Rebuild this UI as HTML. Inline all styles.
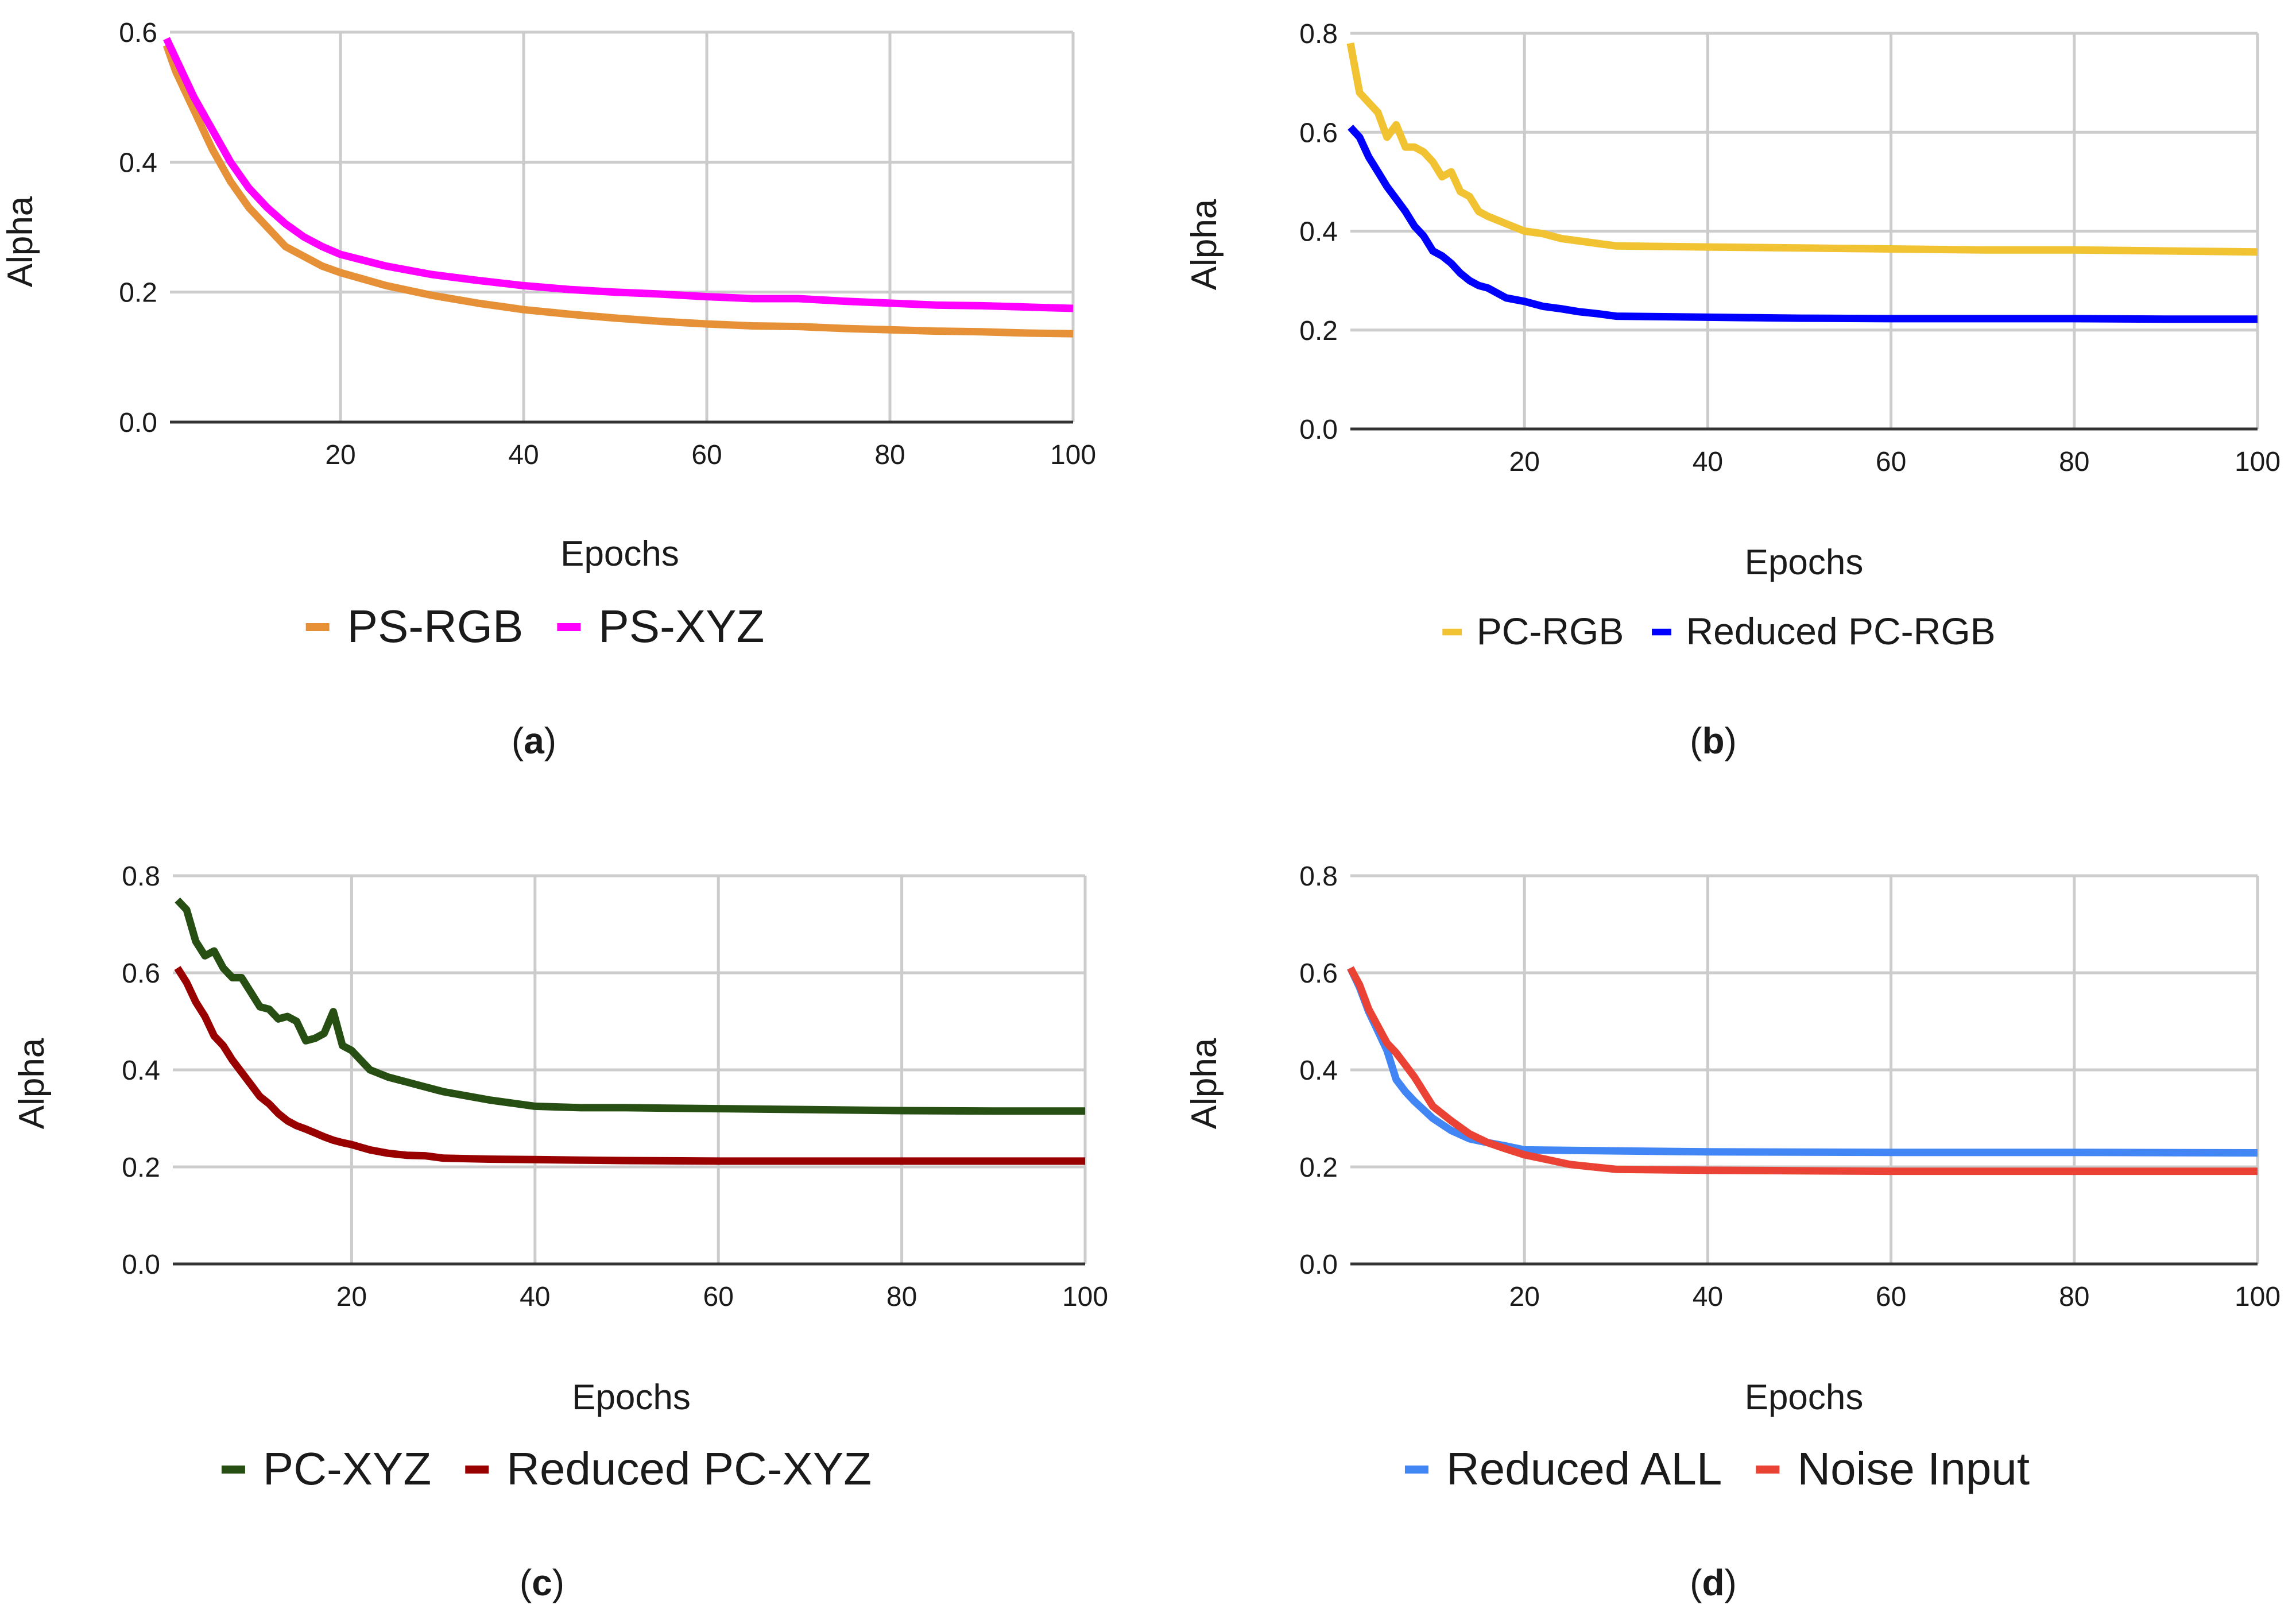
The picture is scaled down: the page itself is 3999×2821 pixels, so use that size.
<!DOCTYPE html>
<html><head><meta charset="utf-8"><style>
html,body{margin:0;padding:0;background:#fff;}
svg{display:block;}
text{font-family:"Liberation Sans",sans-serif;fill:#1a1a1a;}
</style></head><body>
<svg id="fig" width="3999" height="2821" viewBox="0 0 3999 2821" xmlns="http://www.w3.org/2000/svg"></svg>
<script>
// Panel (a)
const epochsA = [1,2,4,6,8,10,12,14,16,18,20,25,30,35,40,45,50,55,60,65,70,75,80,85,90,95,100];
const psRGB = [.58,.54,.48,.42,.37,.33,.30,.27,.255,.24,.23,.21,.195,.183,.173,.166,.16,.155,.151,.148,.147,.144,.142,.140,.139,.137,.136];
const psXYZ = [.59,.56,.50,.45,.40,.36,.33,.305,.285,.27,.258,.24,.227,.218,.21,.204,.20,.197,.193,.19,.19,.186,.183,.180,.179,.177,.175];
// Panel (b)
const epochsB = [1,2,3,4,5,6,7,8,9,10,11,12,13,14,15,16,18,20,22,24,26,28,30,40,50,60,70,80,90,100];
const pcRGB = [.78,.68,.66,.64,.59,.615,.57,.57,.56,.54,.51,.52,.48,.47,.44,.43,.415,.40,.395,.385,.38,.375,.37,.368,.366,.364,.362,.362,.36,.358];
const redPcRGB = [.61,.59,.55,.52,.49,.465,.44,.41,.39,.36,.35,.335,.315,.30,.29,.285,.265,.258,.248,.243,.237,.233,.228,.226,.224,.223,.223,.223,.222,.222];
// Panel (c)
const epochsC = [1,2,3,4,5,6,7,8,9,10,11,12,13,14,15,16,17,18,19,20,22,24,26,28,30,35,40,45,50,60,70,80,90,100];
const pcXYZ = [.75,.73,.665,.635,.645,.61,.59,.59,.56,.53,.525,.505,.51,.50,.46,.465,.475,.52,.45,.44,.40,.385,.375,.365,.355,.338,.325,.322,.322,.32,.318,.316,.315,.315];
const redPcXYZ = [.61,.58,.54,.51,.47,.45,.42,.395,.37,.345,.33,.31,.295,.285,.278,.27,.262,.255,.25,.246,.235,.228,.224,.223,.218,.216,.215,.214,.213,.212,.212,.212,.212,.212];
// Panel (d)
const epochsD = [1,2,3,4,5,6,7,8,10,12,14,16,18,20,25,30,40,60,80,100];
const redAll = [.61,.57,.52,.48,.44,.38,.355,.335,.30,.275,.258,.25,.243,.235,.234,.233,.231,.23,.23,.229];
const noiseIn = [.61,.575,.525,.49,.455,.435,.41,.385,.325,.295,.268,.25,.237,.225,.205,.195,.193,.191,.191,.191];
const xTicks = [20,40,60,80,100];
const yTicks6 = [0,0.2,0.4,0.6];
const yTicks8 = [0,0.2,0.4,0.6,0.8];

const NS="http://www.w3.org/2000/svg";
const svg=document.getElementById('fig');
function mk(tag,attrs,parent){const e=document.createElementNS(NS,tag);for(const k in attrs)e.setAttribute(k,attrs[k]);(parent||svg).appendChild(e);return e;}

function panel(cfg){
  const g=mk('g',{});
  
  
  const x=v=>cfg.x1+(v-1)/(99)*(cfg.x100-cfg.x1);
  const y=v=>cfg.y0-(v/cfg.ymax)*(cfg.y0-cfg.ytop);
  const left=cfg.left;
  cfg.yt.forEach(t=>{
    if(t>0){const l=mk('line',{x1:left,x2:x(100),y1:y(t),y2:y(t),stroke:'#cccccc','stroke-width':5},g);
    }
    const tx=mk('text',{x:left-22,y:y(t)+17,'text-anchor':'end','font-size':48},g);
    tx.textContent=t.toFixed(1);
    
  });
  xTicks.forEach(t=>{
    const l=mk('line',{x1:x(t),x2:x(t),y1:cfg.ytop,y2:cfg.y0,stroke:'#cccccc','stroke-width':5},g);
    
    const tx=mk('text',{x:x(t),y:cfg.y0+73,'text-anchor':'middle','font-size':48},g);
    tx.textContent=t;
    
  });
  const base=mk('line',{x1:left,x2:x(100),y1:cfg.y0,y2:cfg.y0,stroke:'#333','stroke-width':5},g);
  
  cfg.series.forEach(s=>{
    const d=s.xs.map((e,i)=>(i?'L':'M')+x(e).toFixed(1)+','+y(s.ys[i]).toFixed(1)).join(' ');
    const p=mk('path',{d:d,fill:'none',stroke:s.color,'stroke-width':13,'stroke-linejoin':'round'},g);
    
  });
  const yl=mk('text',{x:0,y:0,transform:`translate(${cfg.alphaX},${cfg.alphaY}) rotate(-90)`,'text-anchor':'middle','font-size':62},g);
  yl.textContent='Alpha';
  const cx=(x(1)+x(100))/2;
  const xl=mk('text',{x:cx,y:cfg.epY,'text-anchor':'middle','font-size':62},g);
  xl.textContent='Epochs';
  const fs=cfg.legFs||80, k=fs/80;
  const lg=mk('g',{},g);
  
  let cur=0;
  cfg.series.forEach((s,i)=>{
    const it=mk('g',{},lg);
    
    mk('rect',{x:cur,y:cfg.legY-33*k,width:41*k,height:14*k,fill:s.color},it);
    const t=mk('text',{x:cur+72*k,y:cfg.legY,'font-size':fs},it);
    t.textContent=s.label;
    cur+=72*k+t.getComputedTextLength()+59*k;
  });
  const w=cur-59*k;
  lg.setAttribute('transform',`translate(${cfg.legC-w/2},0)`);
  const cap=mk('text',{x:cfg.capX,y:cfg.capY,'text-anchor':'middle','font-size':64,'font-family':'Liberation Serif, serif'},g);
  cap.innerHTML='(<tspan font-weight="bold">'+cfg.id+'</tspan>)';
  
}

panel({id:'a',x1:290,x100:1869,left:296,y0:735,ytop:56,ymax:0.6,yt:yTicks6,alphaX:56,alphaY:421,epY:985,legY:1118,legC:932,capX:930,capY:1312,
  series:[{key:'ps-rgb',label:'PS-RGB',color:'#e69138',xs:epochsA,ys:psRGB},{key:'ps-xyz',label:'PS-XYZ',color:'#ff00ff',xs:epochsA,ys:psXYZ}]});
panel({id:'b',x1:2352,x100:3932,left:2352,y0:747,ytop:58,ymax:0.8,yt:yTicks8,alphaX:2118,alphaY:426,epY:1000,legY:1122,legFs:66,legC:2994,capX:2984,capY:1312,
  series:[{key:'pc-rgb',label:'PC-RGB',color:'#f1c232',xs:epochsB,ys:pcRGB},{key:'reduced-pc-rgb',label:'Reduced PC-RGB',color:'#0000ff',xs:epochsB,ys:redPcRGB}]});
panel({id:'c',x1:309,x100:1890,left:301,y0:2201,ytop:1525,ymax:0.8,yt:yTicks8,alphaX:76,alphaY:1887,epY:2454,legY:2585,legC:952,capX:944,capY:2778,
  series:[{key:'pc-xyz',label:'PC-XYZ',color:'#274e13',xs:epochsC,ys:pcXYZ},{key:'reduced-pc-xyz',label:'Reduced PC-XYZ',color:'#990000',xs:epochsC,ys:redPcXYZ}]});
panel({id:'d',x1:2352,x100:3932,left:2352,y0:2201,ytop:1525,ymax:0.8,yt:yTicks8,alphaX:2118,alphaY:1887,epY:2454,legY:2585,legC:2991,capX:2984,capY:2778,
  series:[{key:'reduced-all',label:'Reduced ALL',color:'#4285f4',xs:epochsD,ys:redAll},{key:'noise-input',label:'Noise Input',color:'#ea4335',xs:epochsD,ys:noiseIn}]});
</script>
</body></html>
